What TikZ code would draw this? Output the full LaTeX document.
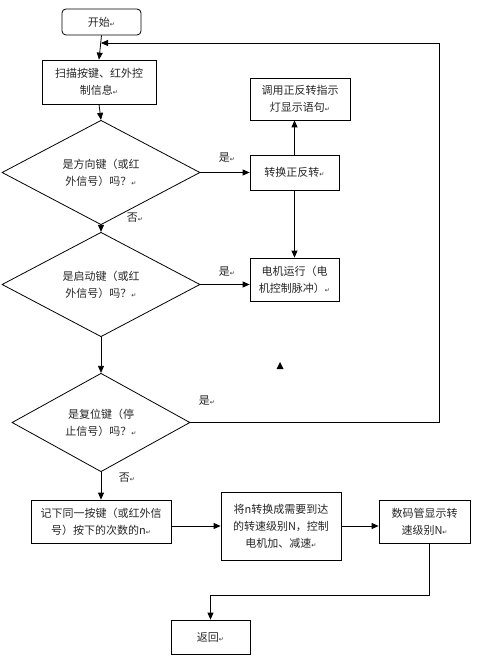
\documentclass[tikz,border=0pt]{standalone}
\usepackage{fontspec}
\setmainfont{Noto Sans CJK SC}
\newfontfamily\symfont{DejaVu Sans}
\usetikzlibrary{shapes.geometric,arrows.meta}
\newcommand{\retmark}{{\symfont\fontsize{6}{6}\selectfont ↵}}
\tikzset{
  base/.style={draw=black, line width=0.8pt, align=center, inner sep=0pt,
    font=\fontsize{11}{17}\selectfont, text=black!85},
  box/.style={base, rectangle},
  startbox/.style={base, rectangle, rounded corners=4pt},
  decision/.style={base, diamond},
  flow/.style={line width=0.8pt, -{Triangle[length=7pt,width=6pt]}},
  plain/.style={line width=0.8pt},
  lbl/.style={font=\fontsize{11}{13}\selectfont, text=black!85}
}
\begin{document}
\begin{tikzpicture}[x=1pt,y=-1pt]
\useasboundingbox (0,0) rectangle (476,660);
\node[startbox, minimum width=79pt, minimum height=26pt] (start) at (101.5,22) {开始\retmark};
\node[box, minimum width=114pt, minimum height=44pt] (scan) at (99,82) {扫描按键、红外控\\制信息\retmark};
\node[box, minimum width=100pt, minimum height=42pt] (call) at (300,99) {调用正反转指示\\灯显示语句\retmark};
\node[box, minimum width=89pt, minimum height=35pt] (conv) at (294.5,172.5) {转换正反转\retmark};
\node[decision, minimum width=198pt, minimum height=69pt] (d1) at (101,172.5) {是方向键（或红\\外信号）吗？\retmark};
\node[decision, minimum width=198pt, minimum height=85pt] (d2) at (101,284.5) {是启动键（或红\\外信号）吗？\retmark};
\node[box, minimum width=89pt, minimum height=43pt] (run) at (294.5,279.5) {电机运行（电\\机控制脉冲）\retmark};
\node[decision, minimum width=178pt, minimum height=85pt] (d3) at (101,422.5) {是复位键（停\\止信号）吗？\retmark};
\node[box, minimum width=140pt, minimum height=43pt] (rec) at (101,521.5) {记下同一按键（或红外信\\号）按下的次数的n\retmark};
\node[box, minimum width=120pt, minimum height=68pt] (tr) at (281,526) {将n转换成需要到达\\的转速级别N，控制\\电机加、减速\retmark};
\node[box, minimum width=91pt, minimum height=43pt] (disp) at (424.5,521.5) {数码管显示转\\速级别N\retmark};
\node[box, minimum width=79pt, minimum height=34pt] (ret) at (210.5,637) {返回\retmark};

\node[lbl] (y1) at (227,158) {是\retmark};
\node[lbl] (y2) at (227,272) {是\retmark};
\node[lbl] (y3) at (207,401) {是\retmark};
\node[lbl] (n1) at (135,218) {否\retmark};
\node[lbl] (n2) at (127,478) {否\retmark};

\coordinate (loopin) at (101,43);
\coordinate (loopr) at (439,43);
\coordinate (turn) at (429,595);
\coordinate (turn2) at (210.5,595);

\draw[flow] (start.south) -- (scan.south |- scan.north);
\draw[flow] (scan.south) -- (d1.north);
\draw[flow] (d1.east) -- (conv.west);
\draw[flow] (conv.north) -- (conv.north |- call.south);
\draw[flow] (conv.south) -- (run.north);
\draw[flow] (d1.south) -- (d2.north);
\draw[flow] (d2.east) -- (d2.east -| run.west);
\draw[flow] (d2.south) -- (d3.north);
\draw[flow] (d3.east) -- (d3.east -| loopr) -- (loopr) -- (loopin);
\draw[flow] (d3.south) -- (rec.north);
\draw[flow] (tr.west -| rec.east) -- (tr.west);
\draw[flow] (tr.east) -- (tr.east -| disp.west);
\draw[flow] (disp.south -| turn) -- (turn) -- (turn2) -- (ret.north);

\fill[black] (276.5,369) -- (283.5,369) -- (280,362) -- cycle;
\end{tikzpicture}
\end{document}
